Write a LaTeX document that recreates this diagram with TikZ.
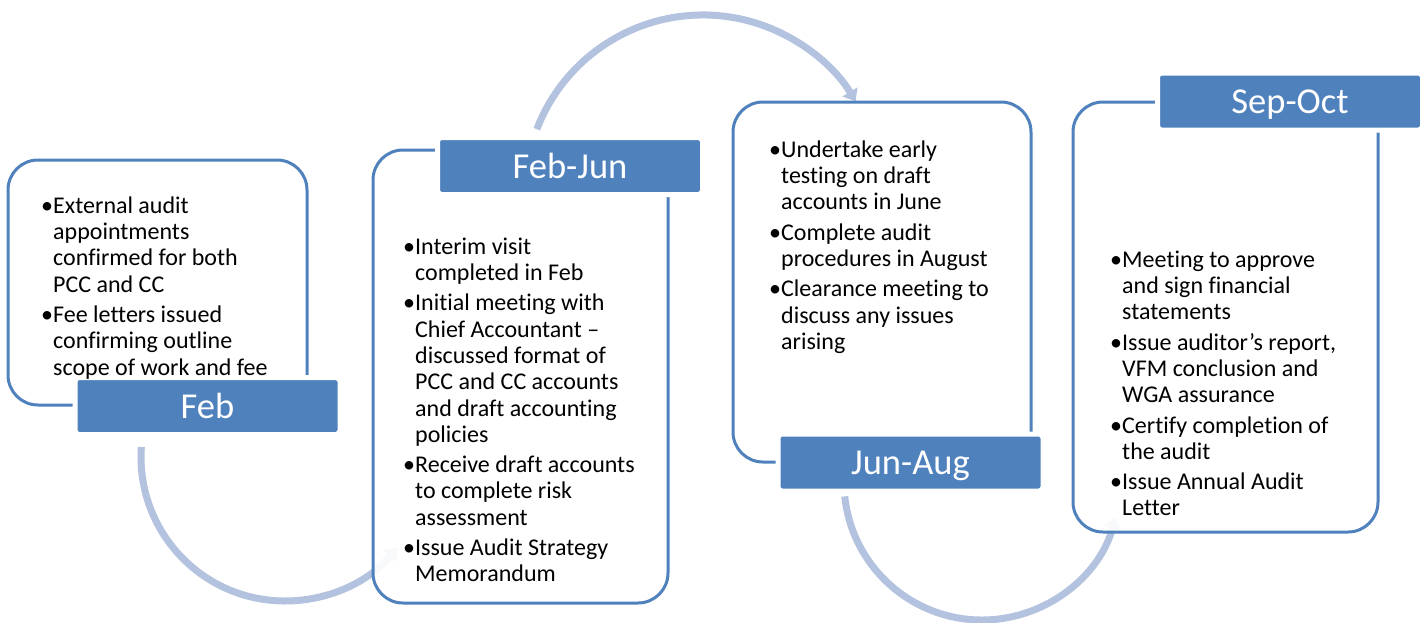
\documentclass[tikz,border=0pt]{standalone}
\usepackage{fontspec}
\setmainfont{Carlito}[Ligatures=NoCommon]
\usetikzlibrary{arrows.meta}
\definecolor{boxblue}{HTML}{4F81BD}
\definecolor{arcblue}{HTML}{B3C2DF}
\newlength\bulw \setlength\bulw{12pt}
\newcommand\bul{\makebox[\bulw][l]{\textbullet}}
\newcommand\ind{\hspace*{\bulw}}
\newcommand\firstline{\rule{0pt}{19pt}}
\begin{document}
\begin{tikzpicture}[x=1pt,y=1pt,
  frame/.style={draw=boxblue, line width=3pt, fill=white, fill opacity=0.9,
    rounded corners=30pt, inner sep=0pt},
  tag/.style={fill=boxblue, draw=white, line width=5pt, rounded corners=4pt,
    minimum width=265pt, minimum height=57pt, inner sep=0pt, text=white,
    font=\fontsize{36.5}{40}\selectfont, text height=24pt, text depth=0pt},
  body/.style={anchor=north west, inner sep=0pt, align=left,
    font=\fontsize{24}{26.3}\selectfont, text=black},
  flow/.style={draw=arcblue, line width=7pt, -{Triangle[width=17pt,length=11pt]}}]
\useasboundingbox (0,0) rectangle (1425,-622);

% circular hand-over arrows between the stages
\coordinate (c1) at (285,-457);
\coordinate (c2) at (703,-193);
\coordinate (c3) at (982,-482);
\draw[flow] (c1) ++(176:144) arc[start angle=176, end angle=321, radius=144];
\draw[flow] (c2) ++(159:178) arc[start angle=159, end angle=31, radius=178];
\draw[flow] (c3) ++(186:138) arc[start angle=186, end angle=345, radius=138];

% stage frames
\node[frame, minimum width=299pt, minimum height=245pt] (f1) at (157.5,-282.5) {};
\node[frame, minimum width=295pt, minimum height=453pt] (f2) at (520.5,-376.5) {};
\node[frame, minimum width=298pt, minimum height=360pt] (f3) at (882,-282) {};
\node[frame, minimum width=305pt, minimum height=430pt] (f4) at (1225.5,-317) {};

% stage tags
\node[tag] (t1) at (207.5,-406) {Feb};
\node[tag] (t2) at (570,-166) {Feb-Jun};
\node[tag] (t3) at (910.5,-462.5) {Jun-Aug};
\node[tag] (t4) at (1290,-101.5) {Sep-Oct};

% stage activities
\node[body] (b1) at (41,-194) {\firstline\bul External audit\\
  \ind appointments\\
  \ind confirmed for both\\
  \ind PCC and CC\\[4pt]
  \bul Fee letters issued\\
  \ind confirming outline\\
  \ind scope of work and fee};

\node[body] (b2) at (403,-235) {\firstline\bul Interim visit\\
  \ind completed in Feb\\[4pt]
  \bul Initial meeting with\\
  \ind Chief Accountant –\\
  \ind discussed format of\\
  \ind PCC and CC accounts\\
  \ind and draft accounting\\
  \ind policies\\[4pt]
  \bul Receive draft accounts\\
  \ind to complete risk\\
  \ind assessment\\[4pt]
  \bul Issue Audit Strategy\\
  \ind Memorandum};

\node[body] (b3) at (769,-138) {\firstline\bul Undertake early\\
  \ind testing on draft\\
  \ind accounts in June\\[4pt]
  \bul Complete audit\\
  \ind procedures in August\\[4pt]
  \bul Clearance meeting to\\
  \ind discuss any issues\\
  \ind arising};

\node[body] (b4) at (1110,-248) {\firstline\bul Meeting to approve\\
  \ind and sign financial\\
  \ind statements\\[4pt]
  \bul Issue auditor’s report,\\
  \ind VFM conclusion and\\
  \ind WGA assurance\\[4pt]
  \bul Certify completion of\\
  \ind the audit\\[4pt]
  \bul Issue Annual Audit\\
  \ind Letter};
\end{tikzpicture}
\end{document}
